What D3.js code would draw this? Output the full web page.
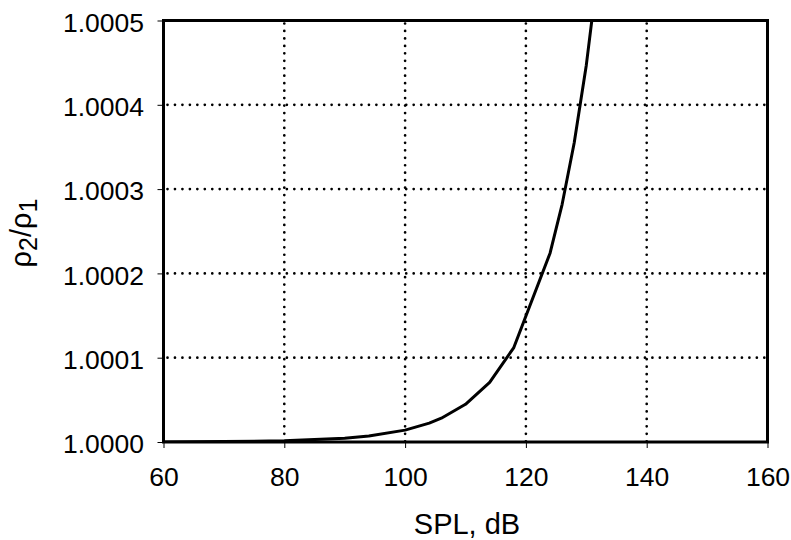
<!DOCTYPE html>
<html><head><meta charset="utf-8">
<script src="https://cdn.jsdelivr.net/npm/d3@7"></script>
<style>body{margin:0;background:#fff}svg{display:block}</style>
</head><body><svg id="c" width="791" height="540"></svg>
<script>
const splValues = [60, 70, 80, 90, 94, 100, 104, 106, 110, 114, 118, 124, 126, 128, 130, 132];
const densityRatio = [1.0000001, 1.0000005, 1.0000014, 1.0000045, 1.0000071, 1.0000141, 1.0000224, 1.0000282, 1.0000447, 1.0000707, 1.0001120, 1.0002240, 1.0002820, 1.0003550, 1.0004470, 1.0005630];
const xTicks = [60, 80, 100, 120, 140, 160];
const yTicks = [1.0000, 1.0001, 1.0002, 1.0003, 1.0004, 1.0005];

const svg = d3.select("#c");
const L = 163.5, R = 767.5, T = 20.5, B = 442;
const x = d3.scaleLinear().domain([60, 160]).range([L, R]);
const y = d3.scaleLinear().domain([1.0000, 1.0005]).range([B, T]);
const font = "Liberation Sans, Arial, sans-serif";

// gridlines
const dot = "0.01,7.45";
svg.append("g").selectAll("line").data(xTicks.slice(1, -1)).join("line")
  .attr("x1", d => x(d)).attr("x2", d => x(d)).attr("y1", T + 3).attr("y2", B)
  .attr("stroke", "#000").attr("stroke-width", 2.7).attr("stroke-linecap", "round")
  .attr("stroke-dasharray", dot);
svg.append("g").selectAll("line").data(yTicks.slice(1, -1)).join("line")
  .attr("x1", L + 4).attr("x2", R).attr("y1", d => y(d)).attr("y2", d => y(d))
  .attr("stroke", "#000").attr("stroke-width", 2.7).attr("stroke-linecap", "round")
  .attr("stroke-dasharray", dot);

// curve
svg.append("clipPath").attr("id", "clip").append("rect")
  .attr("x", L).attr("y", T).attr("width", R - L).attr("height", B - T);
const line = d3.line().x((d, i) => x(splValues[i])).y(d => y(d));
svg.append("path").datum(densityRatio).attr("d", line)
  .attr("clip-path", "url(#clip)")
  .attr("fill", "none").attr("stroke", "#000").attr("stroke-width", 3).attr("stroke-linejoin", "round");

// axes
const xa = svg.append("g").attr("transform", `translate(0,${B})`)
  .call(d3.axisBottom(x).tickValues(xTicks).tickSize(6).tickPadding(19).tickFormat(d3.format("d")));
const ya = svg.append("g").attr("transform", `translate(${L},0)`)
  .call(d3.axisLeft(y).tickValues(yTicks).tickSize(6).tickPadding(13.5).tickFormat(d3.format(".4f")));
[xa, ya].forEach(a => {
  a.select(".domain").remove();
  a.selectAll("line").attr("stroke", "#000").attr("stroke-width", 1);
  a.selectAll("text").attr("font-family", font).attr("font-size", 26.5).attr("fill", "#000");
});
ya.selectAll("text").attr("dy", "0.4em");

// frame
svg.append("rect").attr("x", L).attr("y", T).attr("width", R - L).attr("height", B - T)
  .attr("fill", "none").attr("stroke", "#000").attr("stroke-width", 3);

// axis titles
svg.append("text").attr("x", 467).attr("y", 534).attr("text-anchor", "middle")
  .attr("font-family", font).attr("font-size", 29).text("SPL, dB");
const yl = svg.append("text").attr("transform", "translate(31,233) rotate(-90)")
  .attr("text-anchor", "middle").attr("font-family", font).attr("font-size", 29);
yl.append("tspan").text("ρ");
yl.append("tspan").attr("dy", 6).attr("font-size", 25).text("2");
yl.append("tspan").attr("dy", -6).text("/ρ");
yl.append("tspan").attr("dy", 6).attr("font-size", 25).text("1");
</script></body></html>
